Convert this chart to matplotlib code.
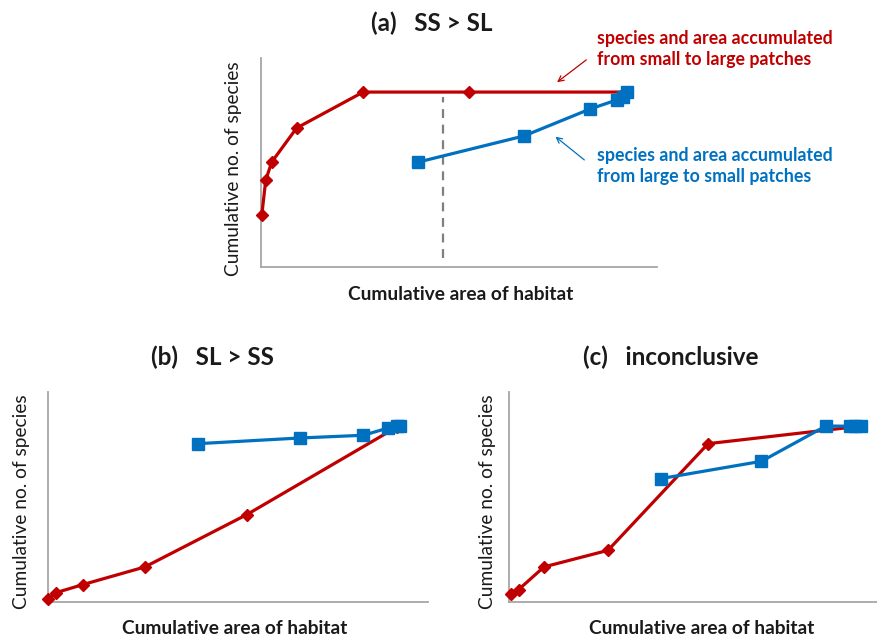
import matplotlib
matplotlib.use("Agg")
import matplotlib.pyplot as plt

plt.rcParams["font.family"] = ["Lato", "DejaVu Sans"]

RED = "#C00000"
BLUE = "#0070C0"
AXIS_GRAY = "#A6A6A6"

# --- panel (a): SS > SL ---
a_small_x = [0.2, 1.2, 2.7, 9.0, 25.8, 52.6, 91.9]
a_small_y = [24.9, 41.6, 50.2, 66.5, 83.7, 83.7, 83.7]
a_large_x = [39.7, 66.4, 83.1, 89.8, 91.5, 92.3]
a_large_y = [50.2, 62.7, 75.6, 79.9, 81.3, 83.7]
a_dash_x = 46.0
a_dash_y = [4.3, 81.3]

# --- panel (b): SL > SS ---
b_small_x = [0.0, 2.2, 9.2, 25.5, 52.3, 91.8]
b_small_y = [1.6, 4.5, 8.3, 16.7, 41.6, 83.3]
b_large_x = [39.5, 66.3, 83.0, 89.6, 91.8, 92.7]
b_large_y = [75.4, 78.1, 79.4, 82.9, 83.7, 83.7]

# --- panel (c): inconclusive ---
c_small_x = [0.5, 2.6, 9.5, 26.9, 54.1, 95.4]
c_small_y = [4.0, 5.9, 16.7, 24.6, 75.4, 83.7]
c_large_x = [41.4, 68.6, 86.1, 92.6, 94.0, 95.6]
c_large_y = [58.8, 67.0, 83.8, 83.7, 83.7, 83.7]

W, H = 877, 636
fig = plt.figure(figsize=(W / 100, H / 100), dpi=100)


def px(x, y):
    return x / W, 1 - y / H


def make_ax(x0, y0, x1, y1):
    # pixel box: left, top, right, bottom
    ax = fig.add_axes([x0 / W, 1 - y1 / H, (x1 - x0) / W, (y1 - y0) / H])
    ax.set_xlim(0, 100)
    ax.set_ylim(0, 100)
    ax.set_xticks([])
    ax.set_yticks([])
    for s in ["top", "right"]:
        ax.spines[s].set_visible(False)
    for s in ["left", "bottom"]:
        ax.spines[s].set_color(AXIS_GRAY)
        ax.spines[s].set_linewidth(1.3)
    ax.patch.set_alpha(0)
    return ax


def draw(ax, sx, sy, lx, ly):
    ax.plot(sx, sy, color=RED, lw=2.3, marker="D", ms=6, mec=RED, mfc=RED, clip_on=False, zorder=3)
    ax.plot(lx, ly, color=BLUE, lw=2.3, marker="s", ms=8, mec=BLUE, mfc=BLUE, clip_on=False, zorder=4)


ax_a = make_ax(261, 58, 657, 267)
ax_b = make_ax(48, 392, 428, 602)
ax_c = make_ax(509, 392, 877, 602)

ax_a.plot([a_dash_x, a_dash_x], a_dash_y, color="#7F7F7F", lw=1.6, ls=(0, (4, 3)), zorder=2)
draw(ax_a, a_small_x, a_small_y, a_large_x, a_large_y)
draw(ax_b, b_small_x, b_small_y, b_large_x, b_large_y)
draw(ax_c, c_small_x, c_small_y, c_large_x, c_large_y)

# titles
title_kw = dict(fontsize=17.5, fontweight="bold", ha="center", va="center", color="#1a1a1a")
fig.text(*px(432, 23), "(a)   SS > SL", **title_kw)
fig.text(*px(212, 357), "(b)   SL > SS", **title_kw)
fig.text(*px(671, 357), "(c)   inconclusive", **title_kw)

# axis labels
ylab_kw = dict(fontsize=13.8, rotation=90, ha="center", va="center", color="#1a1a1a")
xlab_kw = dict(fontsize=13.8, fontweight="bold", ha="center", va="center", color="#1a1a1a")
fig.text(*px(233, 169), "Cumulative no. of species", **ylab_kw)
fig.text(*px(22, 502), "Cumulative no. of species", **ylab_kw)
fig.text(*px(487, 502), "Cumulative no. of species", **ylab_kw)
fig.text(*px(461, 295), "Cumulative area of habitat", **xlab_kw)
fig.text(*px(235, 629), "Cumulative area of habitat", **xlab_kw)
fig.text(*px(702, 629), "Cumulative area of habitat", **xlab_kw)

# annotations in panel (a)
ax_a.annotate("", xy=(74.2, 87.6), xytext=(82.7, 99.9),
              arrowprops=dict(arrowstyle="->", color=RED, lw=0.9), annotation_clip=False)
ax_a.annotate("", xy=(73.8, 63.2), xytext=(82.2, 50.4),
              arrowprops=dict(arrowstyle="->", color=BLUE, lw=0.9), annotation_clip=False)
fig.text(*px(597, 49), "species and area accumulated\nfrom small to large patches",
         fontsize=12.8, fontweight="bold", color=RED, ha="left", va="center", linespacing=1.35)
fig.text(*px(597, 166), "species and area accumulated\nfrom large to small patches",
         fontsize=12.8, fontweight="bold", color=BLUE, ha="left", va="center", linespacing=1.35)

fig.savefig("out.png", dpi=100)
